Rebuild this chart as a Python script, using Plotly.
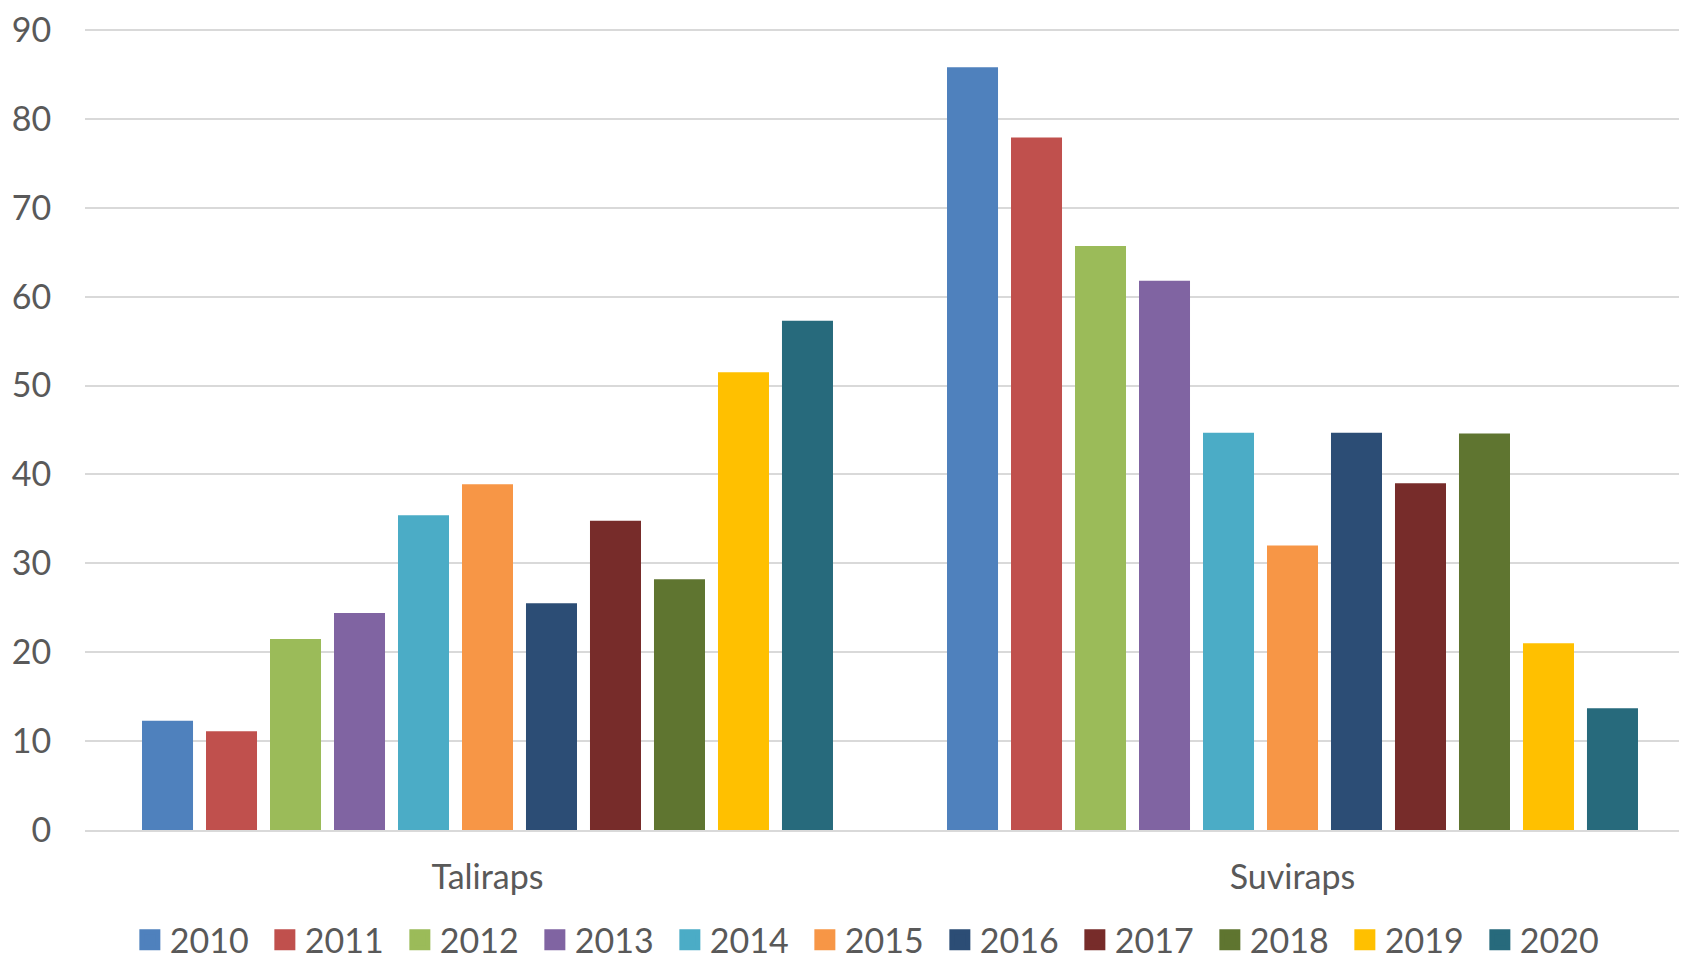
import plotly.graph_objects as go

categories = ["Taliraps", "Suviraps"]
years = ["2010", "2011", "2012", "2013", "2014", "2015", "2016", "2017", "2018", "2019", "2020"]
taliraps = [12.3, 11.1, 21.5, 24.4, 35.4, 38.9, 25.5, 34.8, 28.2, 51.5, 57.3]
suviraps = [85.8, 77.9, 65.7, 61.8, 44.7, 32.0, 44.7, 39.0, 44.6, 21.0, 13.7]
colors = ["#4F81BD", "#C0504D", "#9BBB59", "#8064A2", "#4BACC6", "#F79646",
          "#2C4D75", "#772C2A", "#5F7530", "#FFC000", "#276A7C"]
y_ticks = [0, 10, 20, 30, 40, 50, 60, 70, 80, 90]

FONT = "Lato"
TXT = "#595959"
SIZE = 34

fig = go.Figure()
for i, yr in enumerate(years):
    fig.add_trace(go.Bar(
        x=categories, y=[taliraps[i], suviraps[i]], name=yr,
        marker=dict(color=colors[i], line=dict(width=0)),
        legendgroup=yr, showlegend=False,
    ))
for i, yr in enumerate(years):
    fig.add_trace(go.Scatter(
        x=[None], y=[None], name=yr, mode="markers",
        marker=dict(symbol="square", size=16, color=colors[i],
                    line=dict(color=colors[i], width=5)),
        legendgroup=yr, showlegend=True,
    ))

# page body has an 8px default margin, so the figure is 8px smaller
fig.update_layout(
    width=1679, height=954,
    margin=dict(l=77, r=0, t=18, b=132, autoexpand=False),
    paper_bgcolor="white", plot_bgcolor="white",
    barmode="group", bargap=0.1255, bargroupgap=0.203,
    font=dict(family=FONT, size=SIZE, color=TXT),
    showlegend=True,
    legend=dict(orientation="h", x=0.028, xanchor="left", y=-0.137, yanchor="middle",
                entrywidth=90, entrywidthmode="pixels", itemwidth=30,
                font=dict(family=FONT, size=SIZE, color=TXT),
                bgcolor="rgba(0,0,0,0)", tracegroupgap=0),
    xaxis=dict(type="category", range=[-0.5, -0.5 + 1602 / 805],
               showgrid=False, showline=True, linecolor="#D9D9D9", linewidth=2,
               ticks="outside", ticklen=16, tickcolor="rgba(0,0,0,0)",
               tickfont=dict(family=FONT, size=SIZE, color=TXT), fixedrange=True),
    yaxis=dict(range=[0, 90.45], tickvals=y_ticks, showgrid=True, gridcolor="#D9D9D9",
               gridwidth=1.5, zeroline=False, showline=False,
               ticks="outside", ticklen=26, tickcolor="rgba(0,0,0,0)",
               ticklabeloverflow="allow",
               tickfont=dict(family=FONT, size=SIZE, color=TXT), fixedrange=True),
)

fig.write_html("out.html")
